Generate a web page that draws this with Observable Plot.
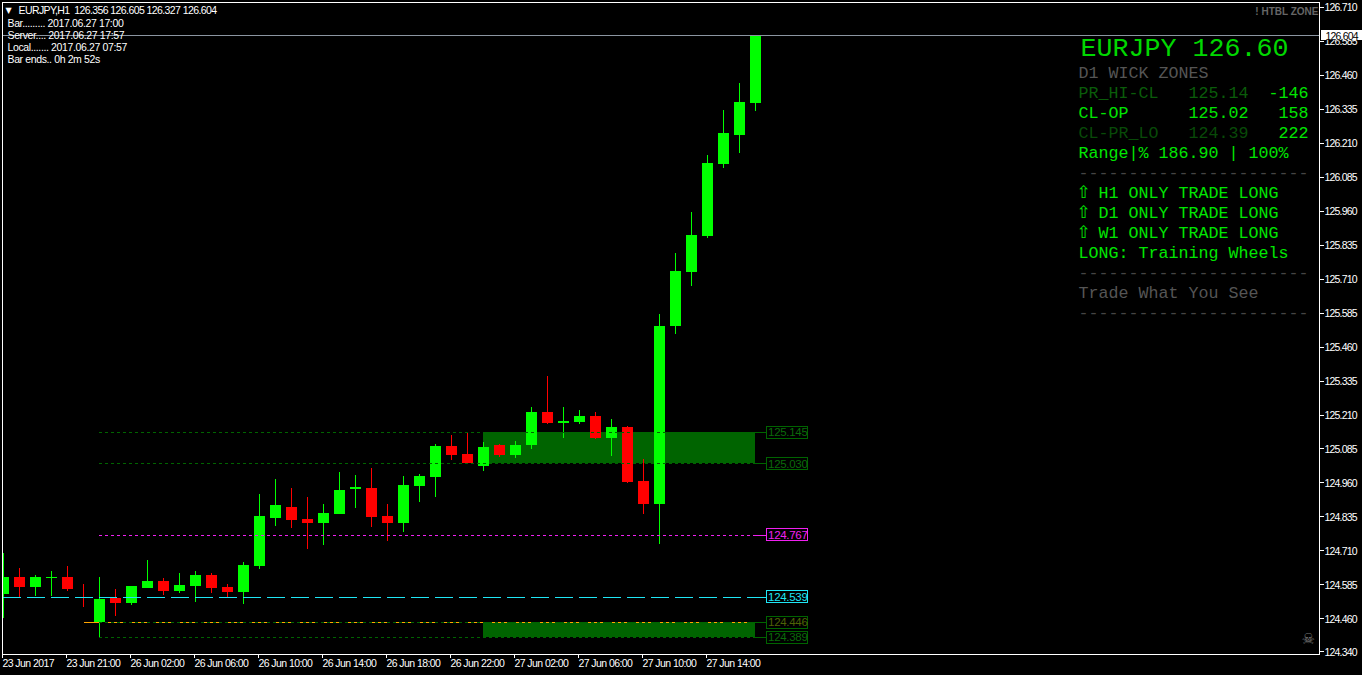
<!DOCTYPE html>
<html>
<head>
<meta charset="utf-8">
<script src="https://cdn.jsdelivr.net/npm/d3@7"></script>
<script src="https://cdn.jsdelivr.net/npm/@observablehq/plot@0.6"></script>
<style>
html,body{margin:0;padding:0;background:#000;overflow:hidden}
svg{display:block}
g[font-size="10.5"]{letter-spacing:-0.8px}
g[font-size="10.51"]{letter-spacing:-0.58px}
g[font-size="10.52"]{letter-spacing:-0.6px;white-space:pre}
g[font-size="10.53"]{letter-spacing:-0.38px}
g[font-size="11.5"]{letter-spacing:-0.3px}
</style>
</head>
<body>
<div id="chart"></div>
<script>
const opens = [124.551,124.614,124.577,124.610,124.614,124.573,124.446,124.5365,124.518,124.573,124.599,124.562,124.581,124.621,124.577,124.5585,124.654,124.831,124.871,124.827,124.812,124.845,124.937,124.941,124.838,124.812,124.948,124.981,125.095,125.066,125.022,125.099,125.062,125.099,125.220,125.180,125.184,125.206,125.125,125.165,124.967,124.882,125.5365,125.735,125.867,126.132,126.239,126.356];
const closes = [124.614,124.577,124.614,124.614,124.570,124.571,124.533,124.518,124.581,124.599,124.562,124.584,124.621,124.573,124.5585,124.658,124.838,124.878,124.823,124.812,124.849,124.934,124.945,124.834,124.812,124.952,124.985,125.095,125.062,125.030,125.092,125.062,125.099,125.220,125.180,125.187,125.206,125.125,125.165,124.963,124.882,125.5365,125.739,125.871,126.136,126.246,126.360,126.604];
const highs = [124.702,124.647,124.621,124.636,124.654,124.588,124.614,124.570,124.581,124.676,124.610,124.628,124.636,124.628,124.588,124.669,124.919,124.974,124.941,124.908,124.882,125.000,124.989,125.014,124.882,124.985,124.992,125.103,125.136,125.143,125.110,125.103,125.114,125.239,125.353,125.239,125.228,125.220,125.195,125.169,125.0475,125.581,125.805,125.956,126.165,126.331,126.430,126.605];
const lows = [124.463,124.540,124.544,124.544,124.562,124.503,124.393,124.470,124.511,124.573,124.5475,124.555,124.522,124.555,124.540,124.514,124.643,124.801,124.794,124.717,124.731,124.845,124.867,124.7975,124.746,124.779,124.889,124.908,125.044,125.030,125.003,125.055,125.051,125.084,125.176,125.125,125.176,125.121,125.059,124.959,124.845,124.735,125.507,125.684,125.860,126.117,126.1725,126.327];

const priceTicks = [126.710,126.585,126.460,126.335,126.210,126.085,125.960,125.835,125.710,125.585,125.460,125.335,125.210,125.085,124.960,124.835,124.710,124.585,124.460,124.340];
const timeTicks = [0,4,8,12,16,20,24,28,32,36,40,44];
const timeLabels = ["23 Jun 2017","23 Jun 21:00","26 Jun 02:00","26 Jun 06:00","26 Jun 10:00","26 Jun 14:00","26 Jun 18:00","26 Jun 22:00","27 Jun 02:00","27 Jun 06:00","27 Jun 10:00","27 Jun 14:00"];

const zoneHigh = [125.145,124.446];
const zoneLow = [125.030,124.391];
const levels = [125.145,125.030,124.767,124.539,124.446,124.391];
const levelLabels = ["125.145","125.030","124.767","124.539","124.446","124.389"];
const currentPrice = 126.604;

const headerLines = ["EURJPY,H1  126.356 126.605 126.327 126.604","Bar......... 2017.06.27 17:00","Server.... 2017.06.27 17:57","Local....... 2017.06.27 07:57","Bar ends.. 0h 2m 52s"];
const panelTitle = "EURJPY 126.60";
const zoneNames = ["PR_HI-CL","CL-OP","CL-PR_LO"];
const zonePrices = ["125.14","125.02","124.39"];
const zonePips = ["-146","158","222"];
const rangeLine = "Range|% 186.90 | 100%";
const tradeLines = ["H1 ONLY TRADE LONG","D1 ONLY TRADE LONG","W1 ONLY TRADE LONG"];
const longLine = "LONG: Training Wheels";
const seeLine = "Trade What You See";
const rule = "-----------------------";

const candles = opens.map((o,i)=>({i,open:o,close:closes[i],high:highs[i],low:lows[i],color:closes[i]>=o?"#00ff00":"#ff0000"}));
const zones = zoneHigh.map((h,k)=>({hi:h,lo:zoneLow[k]}));

const GREEN="#006400", LIME="#00e600", CYAN="#1fe6f5", MAG="#f020f0", ORANGE="#ffa500";
const lblStart=47.69, lblEnd=50.3, lastBar=47, firstZoneBar=6, orangeStart=5.0625;
const levelColors=[GREEN,GREEN,MAG,CYAN,GREEN,GREEN];
const textColors=["#0b6a0b","#0b6a0b",MAG,CYAN,"#4f6206","#0b6a0b"];
const MONO="Liberation Mono";
const UI="Liberation Sans";
const crisp={shapeRendering:"crispEdges"};

function txt(str,px,py,o={}){
  return Plot.text([str],{text:d=>d,frameAnchor:"top-left",dx:px-2,dy:py-2,textAnchor:"start",lineAnchor:"middle",fontFamily:MONO,fontSize:16.67,fill:LIME,...o});
}
const rowY=r=>72+20*r;
const COL0=1078;

const marks=[
  Plot.rect(zones,{x1:()=>30,x2:()=>47,y1:"lo",y2:"hi",fill:GREEN,...crisp}),
  Plot.ruleX(candles,{x:"i",y1:"low",y2:"high",stroke:"color",clip:"frame",...crisp}),
  Plot.rect(candles,{x1:"i",x2:"i",y1:"open",y2:"close",fill:"color",insetLeft:-5,insetRight:-6,clip:"frame",...crisp}),
  Plot.ruleY([levels[4]],{x1:()=>orangeStart,x2:()=>lastBar,stroke:ORANGE,strokeDasharray:"18 6",...crisp}),
  Plot.ruleY([levels[0],levels[1],levels[5],levels[4]],{x1:()=>firstZoneBar,x2:()=>lastBar,stroke:GREEN,strokeDasharray:"3 3",...crisp}),
  Plot.ruleY([levels[2]],{x1:()=>firstZoneBar,x2:()=>lastBar,stroke:MAG,strokeDasharray:"3 3",...crisp}),
  Plot.ruleY([levels[3]],{x1:()=>0,x2:()=>lastBar,stroke:CYAN,strokeDasharray:"18 6",...crisp}),
  ...levels.map((v,k)=>Plot.ruleY([v],{x1:()=>lastBar,x2:()=>lblStart,stroke:levelColors[k],...crisp})),
  ...levels.map((v,k)=>Plot.rect([v],{x1:()=>lblStart,x2:()=>lblEnd,y1:d=>d,y2:d=>d,insetTop:-6,insetBottom:-6,fill:"#000",stroke:levelColors[k],...crisp})),
  ...levels.map((v,k)=>Plot.text([v],{x:()=>lblStart,y:d=>d,text:()=>levelLabels[k],dx:1.5,textAnchor:"start",fontFamily:UI,fontSize:11.5,fill:textColors[k]})),
  Plot.ruleY([currentPrice],{stroke:"#8b95a1",...crisp}),
  Plot.axisY({anchor:"right",ticks:priceTicks,text:null,tickSize:4,label:null,stroke:"#fff",...crisp}),
  Plot.axisY({anchor:"right",ticks:priceTicks,tickFormat:d3.format(".3f"),tickSize:0,tickPadding:5,dy:1,label:null,fill:"#fff",fontSize:10.5,fontFamily:UI}),
  Plot.axisX({anchor:"bottom",ticks:timeTicks,tickFormat:d=>timeLabels[timeTicks.indexOf(d)],tickSize:4,tickPadding:1,label:null,textAnchor:"start",fill:"#fff",stroke:"#fff",fontSize:10.51,fontFamily:UI,dx:-1,...crisp}),
  Plot.frame({stroke:"#fff",...crisp}),
  Plot.rect([currentPrice],{x1:()=>82.4,x2:()=>85,y1:d=>d,y2:d=>d,insetTop:-5,insetBottom:-5,fill:"#fff",...crisp}),
  txt(currentPrice.toFixed(3),1325,36,{fontFamily:UI,fontSize:10.5,fill:"#000"}),
  txt("\u25BC",5,10,{fontFamily:"DejaVu Sans",fontSize:8,fill:"#fff"}),
  Plot.text([headerLines[0]],{text:d=>d,frameAnchor:"top-left",dx:16,dy:8,lineAnchor:"middle",textAnchor:"start",fontFamily:UI,fontSize:10.52,fill:"#fff"}),
  ...headerLines.slice(1).map((s,k)=>txt(s,7,23+12*k,{fontFamily:UI,fontSize:10.53,fill:"#fff"})),
  txt(panelTitle,1080,47,{fontSize:26.67,fill:"#00d800"}),
  txt("D1 WICK ZONES",COL0,rowY(0),{fill:"#555"}),
  ...zoneNames.map((s,k)=>txt(s,COL0,rowY(k+1),{fill:["#0a5c0a",LIME,"#084a08"][k]})),
  ...zonePrices.map((s,k)=>txt(s,1188,rowY(k+1),{fill:["#0a5c0a",LIME,"#084a08"][k]})),
  ...zonePips.map((s,k)=>txt(s,1308,rowY(k+1),{textAnchor:"end"})),
  txt(rangeLine,COL0,rowY(4)),
  txt(rule,COL0,rowY(5),{fill:"#444"}),
  ...tradeLines.map((s,k)=>txt("\u21E7",COL0-2,rowY(6+k),{fontFamily:"DejaVu Sans",fontSize:17})),
  ...tradeLines.map((s,k)=>txt(s,1098,rowY(6+k))),
  txt(longLine,COL0,rowY(9)),
  txt(rule,COL0,rowY(10),{fill:"#444"}),
  txt(seeLine,COL0,rowY(11),{fill:"#555"}),
  txt(rule,COL0,rowY(12),{fill:"#444"}),
  txt("! HTBL ZONE",1318,11,{textAnchor:"end",fontFamily:UI,fontWeight:"bold",fontSize:10,fill:"#666"}),
  txt("\u2620",1301,639,{fontFamily:"DejaVu Sans",fontSize:15,fontWeight:"bold",fill:"#777"})
];

const chart=Plot.plot({
  width:1362,height:675,
  marginLeft:2,marginRight:43,marginTop:2,marginBottom:21,
  style:{background:"#000",color:"#fff",fontFamily:UI},
  x:{type:"linear",domain:[0,82.3125],range:[3,1320],axis:null},
  y:{type:"linear",domain:[126.7278,124.3305],range:[1.7,653.7],axis:null},
  marks
});
document.getElementById("chart").appendChild(chart);
</script>
</body>
</html>
